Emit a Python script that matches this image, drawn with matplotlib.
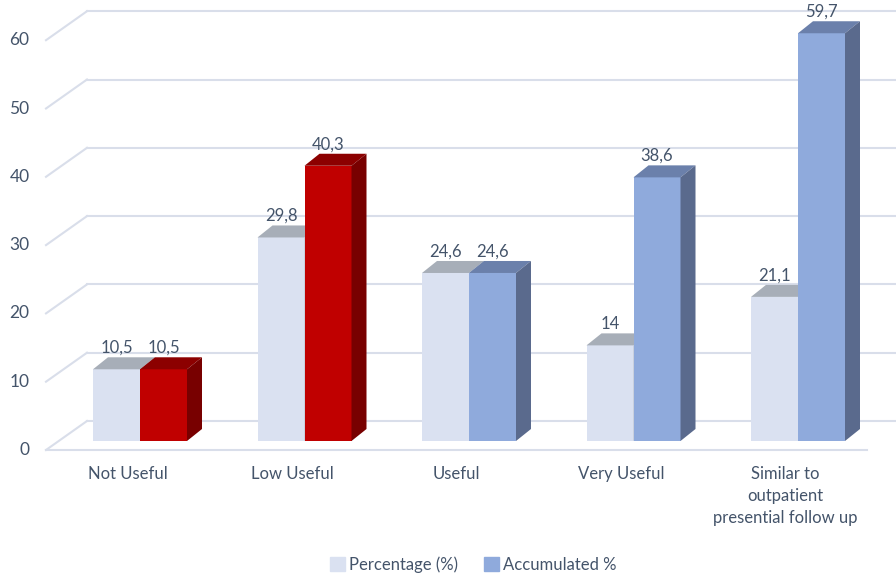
import matplotlib.pyplot as plt
from matplotlib.patches import Patch

categories = ["Not Useful", "Low Useful", "Useful", "Very Useful",
              "Similar to\noutpatient\npresential follow up"]
percentage = [10.5, 29.8, 24.6, 14, 21.1]
accumulated = [10.5, 40.3, 24.6, 38.6, 59.7]
y_ticks = [0, 10, 20, 30, 40, 50, 60]

# colours: (front, top, side)
LIGHT = ("#DAE1F1", "#A7AEB8", "#B9C0CC")
RED = ("#C00000", "#8C0000", "#780000")
BLUE = ("#8FAADC", "#6B80AB", "#5A6A8D")
TEXT = "#44546A"
GRID = "#D9DEEA"

plt.rcParams["font.family"] = ["Lato", "DejaVu Sans"]

PX_X = 164.5   # pixels per category
PX_Y = 6.83    # pixels per unit of value
BAR_W = 47 / PX_X
BAR_DX, BAR_DY = 15 / PX_X, 12 / PX_Y           # bar depth
WALL_DX, WALL_DY = 41 / PX_X, 29 / PX_Y         # floor depth
FRONT_Y = -9 / PX_Y                              # front floor edge
FLOOR_X0, FLOOR_X1 = (46 - 140) / PX_X, (867 - 140) / PX_X


def fmt(v):
    return f"{v:g}".replace(".", ",")


def bar3d(ax, x0, h, colors):
    front, top, side = colors
    ax.bar(x0, h, width=BAR_W, align="edge", color=front, zorder=3)
    ax.fill([x0, x0 + BAR_W, x0 + BAR_W + BAR_DX, x0 + BAR_DX],
            [h, h, h + BAR_DY, h + BAR_DY], color=top, zorder=3, lw=0)
    ax.fill([x0 + BAR_W, x0 + BAR_W + BAR_DX, x0 + BAR_W + BAR_DX, x0 + BAR_W],
            [0, BAR_DY, h + BAR_DY, h], color=side, zorder=3, lw=0)
    ax.text(x0 + BAR_W / 2, h + BAR_DY + 0.2, fmt(h), ha="center", va="bottom",
            fontsize=12, color=TEXT, zorder=4)


fig = plt.figure(figsize=(8.96, 5.77), dpi=100)
ax = fig.add_axes([0, 0, 1, 1])
ax.set_xlim(-140 / PX_X, (896 - 140) / PX_X)
ax.set_ylim(-(577 - 441) / PX_Y, 441 / PX_Y)
ax.set_axis_off()

# walls: left diagonals + back gridlines
for t in y_ticks:
    yf = FRONT_Y + t
    yb = yf + WALL_DY
    ax.plot([FLOOR_X0, FLOOR_X0 + WALL_DX], [yf, yb], color=GRID, lw=1.5, zorder=1)
    ax.plot([FLOOR_X0 + WALL_DX, FLOOR_X1 + WALL_DX], [yb, yb], color=GRID, lw=1.5, zorder=1)
    ax.text(FLOOR_X0 - 0.1, yf, str(t), ha="right", va="center",
            fontsize=12.5, color=TEXT)
# front floor edge
ax.plot([FLOOR_X0, FLOOR_X1], [FRONT_Y, FRONT_Y], color=GRID, lw=1.5, zorder=2)

for i, cat in enumerate(categories):
    dark = RED if i < 2 else BLUE
    bar3d(ax, i - BAR_W, percentage[i], LIGHT)
    bar3d(ax, i, accumulated[i], dark)
    ax.text(i - 0.075, -(466 - 441) / PX_Y, cat, ha="center", va="top",
            fontsize=12, color=TEXT, linespacing=1.45)

handles = [Patch(color=LIGHT[0], label="Percentage (%)"),
           Patch(color=BLUE[0], label="Accumulated %")]
fig.legend(handles=handles, loc="center", bbox_to_anchor=(0.528, 0.022), ncol=2,
           frameon=False, fontsize=12, labelcolor=TEXT, handlelength=0.9,
           handleheight=0.9, handletextpad=0.2, columnspacing=1.6)

fig.savefig("out.png", dpi=100)
